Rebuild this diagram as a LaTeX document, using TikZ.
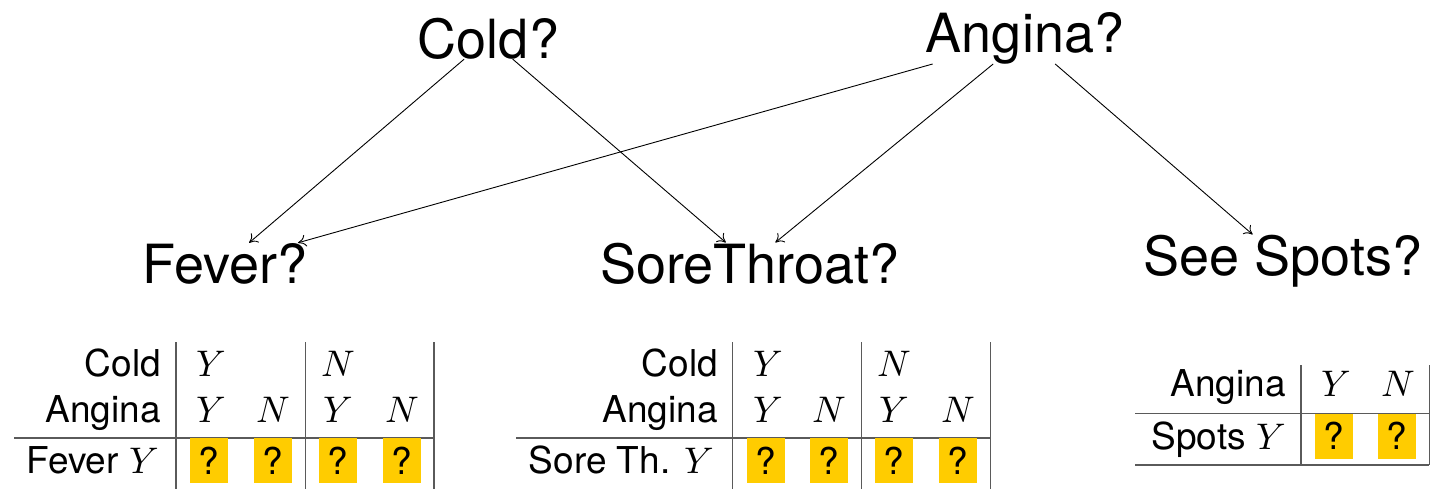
\documentclass[tikz,border=0pt]{standalone}
\usepackage{fontspec}
\setmainfont{TeX Gyre Heros}
\DeclareFontShape{OML}{cmm}{m}{it}{<->cmmi10}{}
\DeclareFontShape{OMS}{cmsy}{m}{n}{<->cmsy10}{}
\DeclareFontShape{OT1}{cmr}{m}{n}{<->cmr10}{}
\usetikzlibrary{arrows.meta}
\definecolor{qyellow}{HTML}{FFCC00}
\definecolor{rulegray}{HTML}{5A5A5A}
\begin{document}
\begin{tikzpicture}[x=1pt,y=-1pt,
  big/.style={font=\fontsize{54}{60}\selectfont, inner sep=0pt, anchor=base},
  cell/.style={font=\fontsize{37}{44}\selectfont, inner sep=0pt, anchor=base},
  lab/.style={cell, anchor=base east},
  qbox/.style={font=\fontsize{37}{44}\selectfont, fill=qyellow, minimum width=38pt, minimum height=45pt, inner sep=0pt, anchor=north west},
  tabrule/.style={draw=rulegray, line width=1.3pt},
  link/.style={-{To[length=8pt,width=12pt]}, line width=0.9pt}]
\useasboundingbox (0,0) rectangle (1439,488);

% network nodes
\node[big] (cold) at (488.5,58) {Cold?};
\node[big] (angina) at (1025,52) {Angina?};
\node[big] (fever) at (225,283) {Fever?};
\node[big] (sore) at (750,283) {SoreThroat?};
\node[big] (spots) at (1283,275) {See Spots?};

\draw[link] (cold) -- (fever);
\draw[link] (cold) -- (sore);
\draw[link] (angina) -- (fever);
\draw[link] (angina) -- (sore);
\draw[link] (angina) -- (spots);

% ---- table 1 : Fever
\draw[tabrule] (176,342) -- (176,492);
\draw[tabrule] (305.3,342) -- (305.3,492);
\draw[tabrule] (434,342) -- (434,492);
\draw[tabrule] (14,438) -- (434,438);
\node[lab] (fa) at (161,376) {Cold};
\node[lab] (fb) at (161,422.7) {Angina};
\node[lab] (fc) at (159,473) {Fever $Y$};
\node[cell] (f1) at (211,376) {$Y$};
\node[cell] (f2) at (338,376) {$N$};
\node[cell] (f3) at (211,422.7) {$Y$};
\node[cell] (f4) at (273,422.7) {$N$};
\node[cell] (f5) at (338,422.7) {$Y$};
\node[cell] (f6) at (402,422.7) {$N$};
\node[qbox] (fq1) at (190,438) {?};
\node[qbox] (fq2) at (254,438) {?};
\node[qbox] (fq3) at (319,438) {?};
\node[qbox] (fq4) at (383,438) {?};

% ---- table 2 : Sore throat
\draw[tabrule] (732.7,342) -- (732.7,492);
\draw[tabrule] (861.7,342) -- (861.7,492);
\draw[tabrule] (990.7,342) -- (990.7,492);
\draw[tabrule] (516,438) -- (990.7,438);
\node[lab] (sa) at (718,376) {Cold};
\node[lab] (sb) at (718,422.7) {Angina};
\node[lab] (sc) at (714,473) {Sore Th. $Y$};
\node[cell] (s1) at (768,376) {$Y$};
\node[cell] (s2) at (894,376) {$N$};
\node[cell] (s3) at (768,422.7) {$Y$};
\node[cell] (s4) at (829,422.7) {$N$};
\node[cell] (s5) at (894,422.7) {$Y$};
\node[cell] (s6) at (958,422.7) {$N$};
\node[qbox] (sq1) at (747,438) {?};
\node[qbox] (sq2) at (810,438) {?};
\node[qbox] (sq3) at (875,438) {?};
\node[qbox] (sq4) at (939,438) {?};

% ---- table 3 : Spots
\draw[tabrule] (1301,365) -- (1301,465);
\draw[tabrule] (1429.3,365) -- (1429.3,465);
\draw[tabrule] (1135,413.3) -- (1429.3,413.3);
\draw[tabrule] (1135,465) -- (1429.3,465);
\node[lab] (pa) at (1286,396.7) {Angina};
\node[lab] (pb) at (1286,449.3) {Spots $Y$};
\node[cell] (p1) at (1336,396.7) {$Y$};
\node[cell] (p2) at (1398,396.7) {$N$};
\node[qbox] (pq1) at (1315,413.3) {?};
\node[qbox] (pq2) at (1378,413.3) {?};
\end{tikzpicture}
\end{document}
